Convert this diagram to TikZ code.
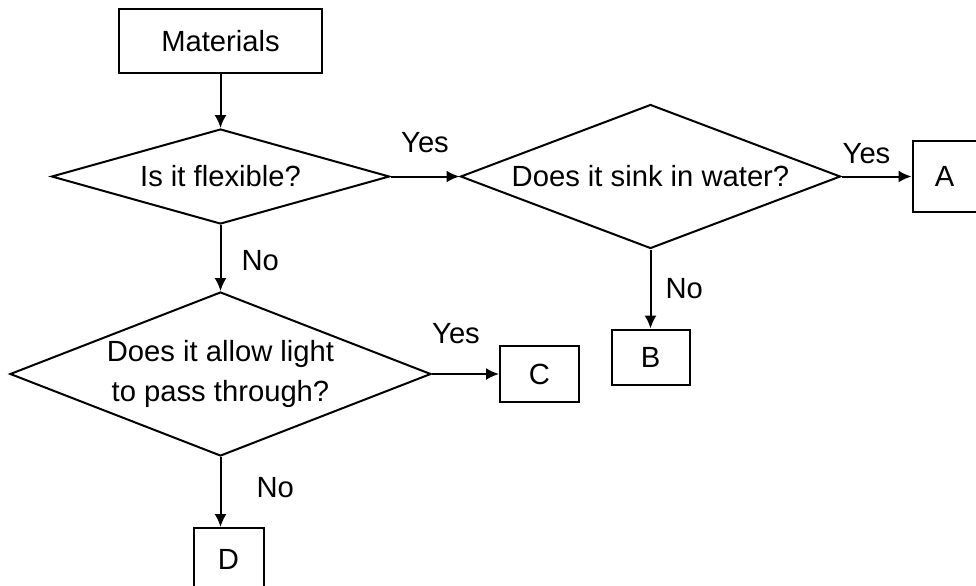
\documentclass[tikz,border=0pt]{standalone}
\usepackage{fontspec}
\setmainfont{Liberation Sans}
\usepackage{tikz}
\usetikzlibrary{arrows.meta,positioning,shapes.geometric}
\tikzset{
  caja/.style={draw=black, line width=1pt, inner sep=0pt, align=center, font=\fontsize{14.6pt}{20pt}\selectfont},
  pregunta/.style={diamond, draw=black, line width=1pt, inner sep=0pt, align=center, font=\fontsize{14.6pt}{20pt}\selectfont},
  arrflow/.style={-{Latex[length=6.5pt,width=6pt]}, line width=1pt},
  etiq/.style={inner sep=0pt, font=\fontsize{14.6pt}{20pt}\selectfont},
}

\begin{document}
\begin{tikzpicture}[x=0.5pt, y=-0.5pt]
\useasboundingbox (0,0) rectangle (976,585);
\node[caja, minimum width=101.5pt, minimum height=32pt] (m) at (220.5,41) {Materials};
\node[pregunta, minimum width=169pt, minimum height=47.5pt, aspect=3.56, below=27pt of m] (q1) {Is it flexible?};
\node[pregunta, minimum width=190pt, minimum height=72pt, aspect=2.64, right=34.5pt of q1] (q2) {Does it sink in water?};
\node[pregunta, minimum width=210.5pt, minimum height=82pt, aspect=2.57, below=33pt of q1] (q3) {Does it allow light\\to pass through?};
\node[caja, minimum width=32pt, minimum height=35.5pt, right=35pt of q2] (a) {A};
\node[caja, minimum width=39pt, minimum height=27.5pt, below=39.5pt of q2] (b) {B};
\node[caja, minimum width=39.5pt, minimum height=28pt, right=33.5pt of q3] (c) {C};
\node[caja, minimum width=35pt, minimum height=31pt, below=35pt of q3, xshift=4pt] (d) {D};

\draw[arrflow] (m.south) -- (q1.north);
\draw[arrflow] (q1.east) -- (q2.west) node[etiq, midway, above=11.5pt] {Yes};
\draw[arrflow] (q2.east) -- (a.west) node[etiq, midway, above=6pt, xshift=-5pt] {Yes};
\draw[arrflow] (q1.south) -- (q3.north) node[etiq, midway, right=10pt, yshift=-1.5pt] {No};
\draw[arrflow] (q2.south) -- (b.north) node[etiq, midway, right=7pt] {No};
\draw[arrflow] (q3.east) -- (c.west) node[etiq, midway, above=14.5pt, xshift=-4.75pt] {Yes};
\draw[arrflow] (q3.south) -- (q3.south |- d.north) node[etiq, midway, right=17.5pt, yshift=2.25pt] {No};
\end{tikzpicture}
\end{document}
